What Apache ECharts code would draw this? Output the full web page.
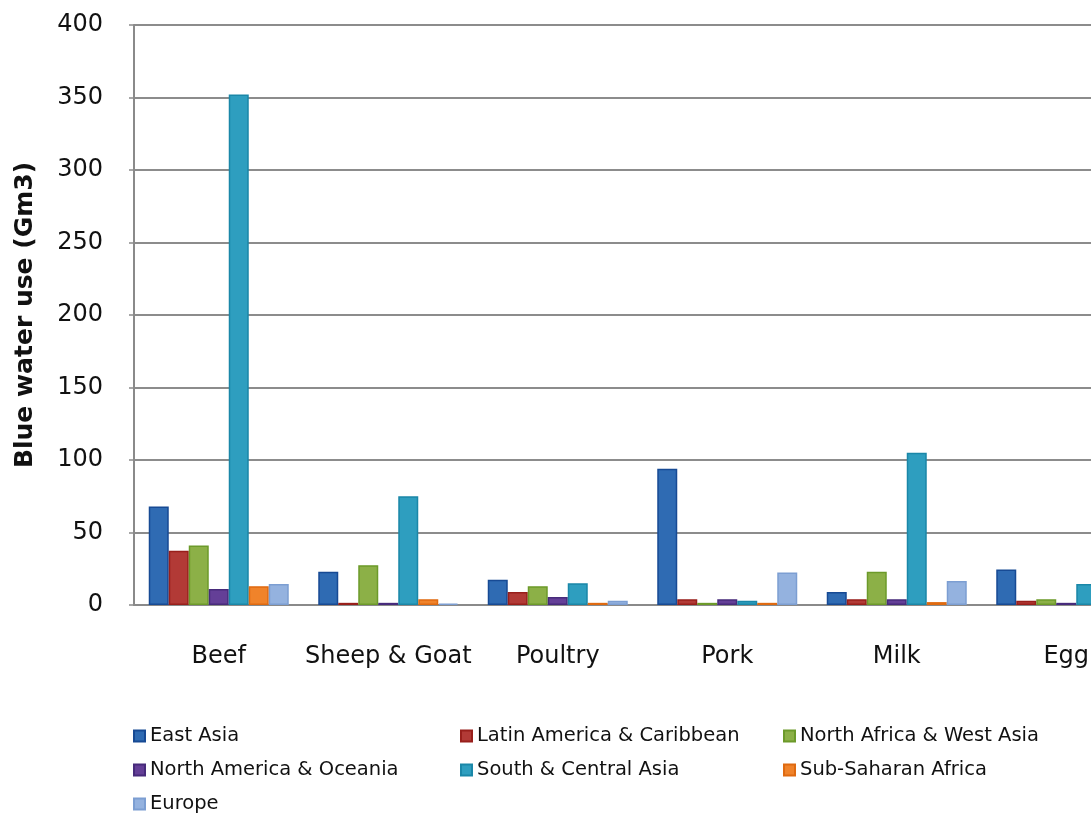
<!DOCTYPE html>
<html>
<head>
<meta charset="utf-8">
<script src="https://cdn.jsdelivr.net/npm/echarts@6/dist/echarts.min.js"></script>
<style>
  html, body { margin: 0; padding: 0; background: #ffffff; }
  #chart { width: 1091px; height: 816px; }
</style>
</head>
<body>
<div id="chart"></div>
<script>
// Livestock products and regions
const categories = ['Beef', 'Sheep & Goat', 'Poultry', 'Pork', 'Milk', 'Egg'];
const regions = [
  'East Asia', 'Latin America & Caribbean', 'North Africa & West Asia',
  'North America & Oceania', 'South & Central Asia', 'Sub-Saharan Africa', 'Europe'
];

// Blue water use (Gm3) per region, one value per product
const eastAsia        = [68, 23, 17.5, 94, 9, 24.5];
const latinAmerica    = [37.5, 1.5, 9, 4, 4, 3];
const northAfricaWA   = [41, 27.5, 13, 1.5, 23, 4];
const northAmericaOc  = [11, 1.5, 5.5, 4, 4, 1.5];
const southCentralAsia= [352, 75, 15, 3, 105, 14.5];
const subSaharan      = [13, 4, 1.5, 1.5, 2, 1];
const europe          = [14.5, 1, 3, 22.5, 16.5, 8];

const yTicks = [0, 50, 100, 150, 200, 250, 300, 350, 400];

const seriesValues = [eastAsia, latinAmerica, northAfricaWA, northAmericaOc,
                      southCentralAsia, subSaharan, europe];
const fills   = ['#2f6bb3', '#b23a36', '#8cb047', '#643f97', '#2e9ebf', '#f0832a', '#94b2df'];
const borders = ['#174a94', '#981f1b', '#6c9a2a', '#472b7b', '#1a87a8', '#df6a10', '#7c9ed2'];

const series = regions.map((name, i) => ({
  name: name,
  type: 'bar',
  data: seriesValues[i],
  barWidth: 20,
  barGap: '0%',
  itemStyle: { color: fills[i], borderColor: borders[i], borderWidth: 1.5 }
}));

const legendText = { fontFamily: 'DejaVu Sans', fontSize: 19.5, color: '#111', lineHeight: 20 };
function legendColumn(names, left) {
  return {
    orient: 'vertical', left: left, top: 726, data: names,
    itemWidth: 11, itemHeight: 11, itemGap: 14, icon: 'rect',
    textStyle: legendText, padding: 0, selectedMode: false
  };
}

const chart = echarts.init(document.getElementById('chart'));
chart.setOption({
  animation: false,
  backgroundColor: '#ffffff',
  color: fills,
  grid: { left: 134, top: 25, bottom: 211, right: -60, outerBoundsMode: 'none', containLabel: false },
  legend: [
    legendColumn([regions[0], regions[3], regions[6]], 133),
    legendColumn([regions[1], regions[4]], 460),
    legendColumn([regions[2], regions[5]], 783)
  ],
  xAxis: {
    type: 'category',
    data: categories,
    axisLine: { show: true, lineStyle: { color: '#8a8a8a', width: 2 } },
    axisTick: { show: false },
    axisLabel: { interval: 0, fontFamily: 'DejaVu Sans', fontSize: 24, color: '#111', margin: 40 }
  },
  yAxis: {
    type: 'value',
    min: yTicks[0], max: yTicks[yTicks.length - 1], interval: 50,
    name: 'Blue water use (Gm3)',
    nameLocation: 'middle',
    nameGap: 96,
    nameTextStyle: { fontFamily: 'DejaVu Sans', fontSize: 25, fontWeight: 'bold', color: '#111' },
    axisLine: { show: true, lineStyle: { color: '#8a8a8a', width: 2 } },
    axisTick: { show: true, inside: false, length: 5, lineStyle: { color: '#8a8a8a', width: 1.5 } },
    axisLabel: { fontFamily: 'DejaVu Sans', fontSize: 24, color: '#111', margin: 31 },
    splitLine: { show: true, lineStyle: { color: '#8c8c8c', width: 2 } }
  },
  series: series
});
</script>
</body>
</html>
